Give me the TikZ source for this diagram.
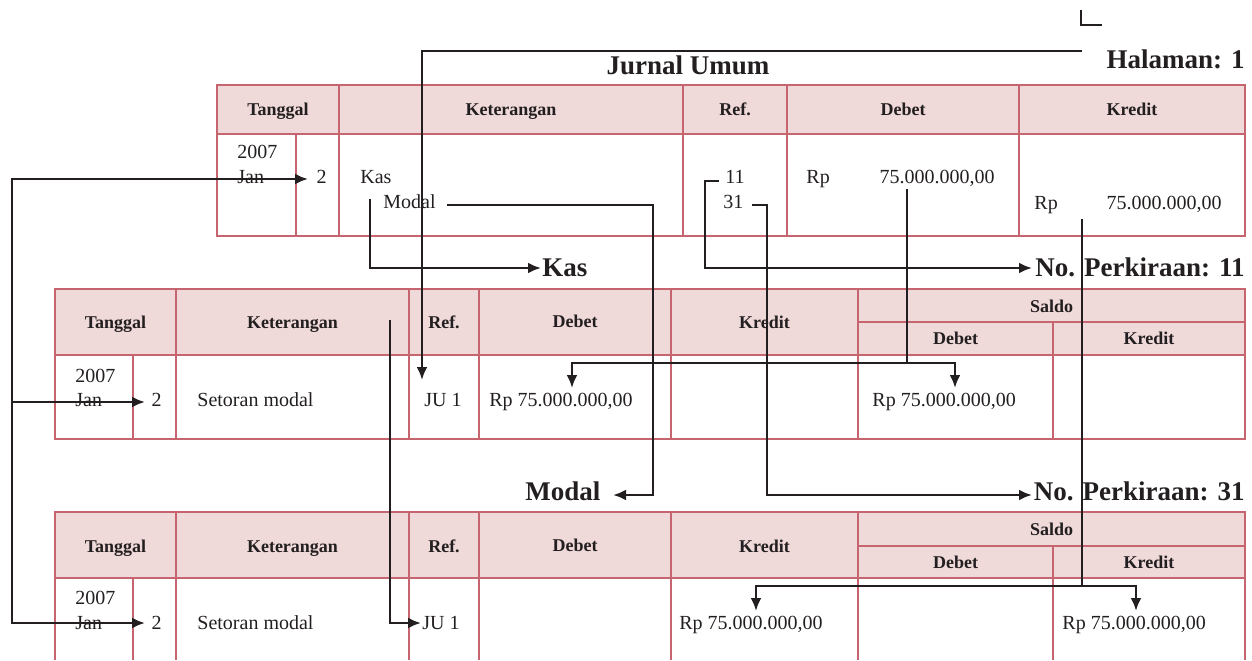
\documentclass[tikz,border=0pt]{standalone}
\usepackage{fontspec}
\setmainfont{Liberation Serif}
\usetikzlibrary{arrows.meta}
\definecolor{tborder}{HTML}{C6646F}
\definecolor{thead}{HTML}{EFD9D9}
\definecolor{ink}{HTML}{231F20}
\newcommand\fbody{\fontsize{10}{12}\selectfont}
\newcommand\fhead{\fontsize{9}{11}\selectfont\bfseries}
\newcommand\ftitle{\fontsize{13.5}{16}\selectfont\bfseries}
\tikzset{
  tb/.style={draw=tborder, line width=1.4pt},
  conn/.style={draw=ink, line width=1.4pt},
  arr/.style={conn, -{Latex[length=6.5pt,width=5.5pt]}},
  darr/.style={conn, {Latex[length=6.5pt,width=5.5pt]}-{Latex[length=6.5pt,width=5.5pt]}},
  bt/.style={inner sep=0pt, font=\fbody, text=ink, anchor=base west},
  bte/.style={inner sep=0pt, font=\fbody, text=ink, anchor=base east},
  ht/.style={inner sep=0pt, font=\fhead, text=ink, anchor=base},
  tt/.style={inner sep=0pt, font=\ftitle, text=ink}
}
\begin{document}
\begin{tikzpicture}[x=0.5pt,y=-0.5pt]
\useasboundingbox (0,0) rectangle (1252,660);

% ---------- Jurnal Umum table ----------
\fill[thead] (217,85) rectangle (1245,134);
\draw[tb] (217,85) rectangle (1245,236);
\draw[tb] (217,134) -- (1245,134);
\foreach \x in {339,683,787,1019} \draw[tb] (\x,85) -- (\x,236);
\draw[tb] (296,134) -- (296,236);

% ---------- Kas table ----------
\fill[thead] (55,289) rectangle (1245,355);
\draw[tb] (55,289) rectangle (1245,439);
\draw[tb] (55,355) -- (1245,355);
\draw[tb] (858,322) -- (1245,322);
\foreach \x in {176,409,479,671,858} \draw[tb] (\x,289) -- (\x,439);
\draw[tb] (133,355) -- (133,439);
\draw[tb] (1053,322) -- (1053,439);

% ---------- Modal table ----------
\fill[thead] (55,512) rectangle (1245,578);
\draw[tb] (55,660) -- (55,512) -- (1245,512) -- (1245,660);
\draw[tb] (55,578) -- (1245,578);
\draw[tb] (858,546) -- (1245,546);
\foreach \x in {176,409,479,671,858} \draw[tb] (\x,512) -- (\x,660);
\draw[tb] (133,578) -- (133,660);
\draw[tb] (1053,546) -- (1053,660);

% ---------- titles ----------
\node[tt, anchor=base] (jutitle) at (688,74) {Jurnal Umum};
\node[tt, anchor=base east] (hal) at (1245,68) {Halaman: 1};
\node[tt, anchor=base west] (kaslbl) at (542,276) {Kas};
\node[tt, anchor=base east] (np11) at (1245,276) {No. Perkiraan: 11};
\node[tt, anchor=base west] (modlbl) at (525,500) {Modal};
\node[tt, anchor=base east] (np31) at (1245,500) {No. Perkiraan: 31};

% ---------- headers: Jurnal ----------
\node[ht] (jh1) at (278,115) {Tanggal};
\node[ht] (jh2) at (511,115) {Keterangan};
\node[ht] (jh3) at (735,115) {Ref.};
\node[ht] (jh4) at (903,115) {Debet};
\node[ht] (jh5) at (1132,115) {Kredit};

% ---------- headers: Kas ----------
\node[ht] (kh1) at (115.5,328) {Tanggal};
\node[ht] (kh2) at (292.5,328) {Keterangan};
\node[ht] (kh3) at (444,328) {Ref.};
\node[ht] (kh4) at (575,327) {Debet};
\node[ht] (kh5) at (764.5,328) {Kredit};
\node[ht] (kh6) at (1051.5,312) {Saldo};
\node[ht] (kh7) at (955.5,344) {Debet};
\node[ht] (kh8) at (1149,344) {Kredit};

% ---------- headers: Modal ----------
\node[ht] (mh1) at (115.5,552) {Tanggal};
\node[ht] (mh2) at (292.5,552) {Keterangan};
\node[ht] (mh3) at (444,552) {Ref.};
\node[ht] (mh4) at (575,551) {Debet};
\node[ht] (mh5) at (764.5,552) {Kredit};
\node[ht] (mh6) at (1051.5,535) {Saldo};
\node[ht] (mh7) at (955.5,568) {Debet};
\node[ht] (mh8) at (1149,568) {Kredit};

% ---------- body: Jurnal ----------
\node[bt] (jy) at (237,158) {2007};
\node[bt] (jm) at (237,183) {Jan};
\node[bte] (jd) at (327,183) {2};
\node[bt] (jkas) at (360,183) {Kas};
\node[bt] (jmod) at (383,208) {Modal};
\node[bt] (jr11) at (725,183) {11};
\node[bt] (jr31) at (723,208) {31};
\node[bt] (jdrp) at (806,183) {Rp};
\node[bte] (jdam) at (995,183) {75.000.000,00};
\node[bt] (jkrp) at (1034,209) {Rp};
\node[bte] (jkam) at (1222,209) {75.000.000,00};

% ---------- body: Kas ----------
\node[bt] (ky) at (75,382) {2007};
\node[bt] (km) at (75,406) {Jan};
\node[bte] (kd) at (162,406) {2};
\node[bt] (kket) at (197,406) {Setoran modal};
\node[bt] (kref) at (424,406) {JU 1};
\node[bt] (kdeb) at (489,406) {Rp 75.000.000,00};
\node[bt] (ksd) at (872,406) {Rp 75.000.000,00};

% ---------- body: Modal ----------
\node[bt] (my) at (75,604) {2007};
\node[bt] (mm) at (75,629) {Jan};
\node[bte] (md) at (162,629) {2};
\node[bt] (mket) at (197,629) {Setoran modal};
\node[bt] (mref) at (422,629) {JU 1};
\node[bt] (mkr) at (679,629) {Rp 75.000.000,00};
\node[bt] (msk) at (1062,629) {Rp 75.000.000,00};

% ---------- connectors ----------
% corner mark
\coordinate (lm1) at (1081,10);
\coordinate (lm2) at (1081,25);
\coordinate (lm3) at (1102,25);
\draw[conn] (lm1) -- (lm2) -- (lm3);

% date bracket
\coordinate (dA) at (308,179);
\coordinate (dB) at (12,179);
\coordinate (dC) at (12,623);
\coordinate (dD) at (145,623);
\coordinate (dE) at (12,402);
\coordinate (dF) at (145,402);
\draw[darr] (dA) -- (dB) -- (dC) -- (dD);
\draw[arr] (dE) -- (dF);

% Kas -> Kas label
\coordinate (kA) at (370,199);
\coordinate (kB) at (370,268);
\coordinate (kC) at (541,268);
\draw[arr] (kA) -- (kB) -- (kC);

% Modal -> Modal label
\coordinate (mA) at (447,205);
\coordinate (mB) at (653,205);
\coordinate (mC) at (653,495);
\coordinate (mD) at (613,495);
\draw[arr] (mA) -- (mB) -- (mC) -- (mD);

% Halaman -> JU 1 (Kas)
\coordinate (hA) at (1082,51);
\coordinate (hB) at (422,51);
\coordinate (hC) at (422,380);
\draw[arr] (hA) -- (hB) -- (hC);

% 11 -> No. Perkiraan 11
\coordinate (rA) at (719,181);
\coordinate (rB) at (705,181);
\coordinate (rC) at (705,268);
\coordinate (rD) at (1032,268);
\draw[arr] (rA) -- (rB) -- (rC) -- (rD);

% 31 -> No. Perkiraan 31
\coordinate (sA) at (752,205);
\coordinate (sB) at (767,205);
\coordinate (sC) at (767,495);
\coordinate (sD) at (1032,495);
\draw[arr] (sA) -- (sB) -- (sC) -- (sD);

% Debet amount -> Kas debet + saldo debet
\coordinate (eA) at (907,189);
\coordinate (eB) at (907,363);
\coordinate (eL) at (572,363);
\coordinate (eR) at (955,363);
\coordinate (eLt) at (572,388);
\coordinate (eRt) at (955,388);
\draw[conn] (eA) -- (eB);
\draw[darr] (eLt) -- (eL) -- (eR) -- (eRt);

% Kredit amount -> Modal kredit + saldo kredit
\coordinate (fA) at (1082,219);
\coordinate (fB) at (1082,586);
\coordinate (fL) at (756,586);
\coordinate (fR) at (1136,586);
\coordinate (fLt) at (756,611);
\coordinate (fRt) at (1136,611);
\draw[conn] (fA) -- (fB);
\draw[darr] (fLt) -- (fL) -- (fR) -- (fRt);

% Kas Keterangan -> JU 1 (Modal)
\coordinate (gA) at (390,320);
\coordinate (gB) at (390,623);
\coordinate (gC) at (421,623);
\draw[arr] (gA) -- (gB) -- (gC);
\end{tikzpicture}
\end{document}
